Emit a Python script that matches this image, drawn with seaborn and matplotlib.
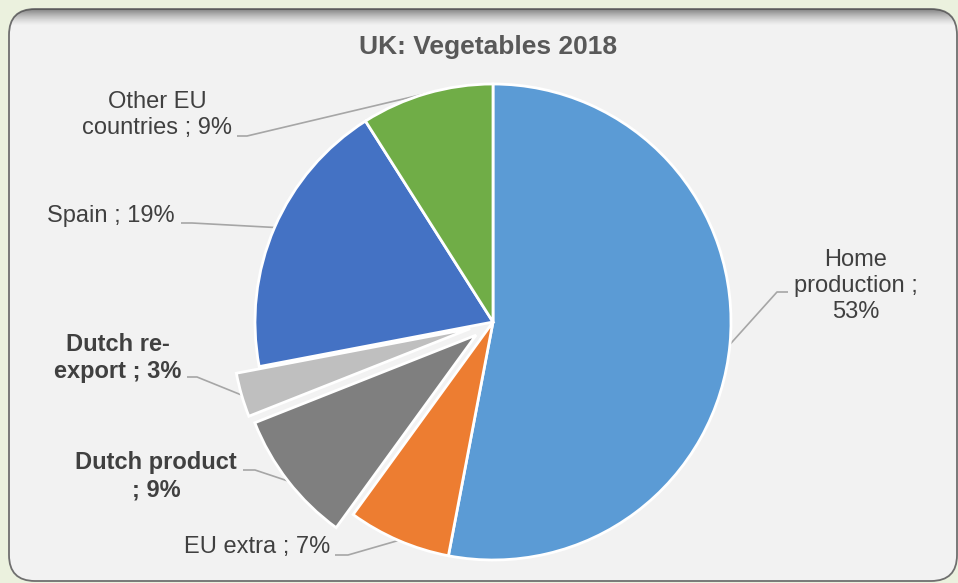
import numpy as np
import matplotlib
matplotlib.use("Agg")
import matplotlib.pyplot as plt
from matplotlib.patches import FancyBboxPatch
import seaborn as sns

# ---------------- data ----------------
categories = ["Home production", "EU extra", "Dutch product",
              "Dutch re-export", "Spain", "Other EU countries"]
shares = [53, 7, 9, 3, 19, 9]
label_texts = ["Home\nproduction ;\n53%", "EU extra ; 7%", "Dutch product\n; 9%",
               "Dutch re-\nexport ; 3%", "Spain ; 19%", "Other EU\ncountries ; 9%"]
bold_labels = [False, False, True, True, False, False]
title = "UK: Vegetables 2018"

# ---------------- style ----------------
sns.set_theme(style="white")
plt.rcParams['font.family'] = ['Liberation Sans', 'DejaVu Sans']

colors = ["#5B9BD5", "#ED7D31", "#7F7F7F", "#BFBFBF", "#4472C4", "#70AD47"]
explode = [0, 0, 0.09, 0.10, 0, 0]

W, H = 958, 583
fig = plt.figure(figsize=(W / 100, H / 100), dpi=100, facecolor="#EBF1DE")

# background axes in pixel coordinates
bg = fig.add_axes([0, 0, 1, 1], zorder=0)
bg.set_xlim(0, W)
bg.set_ylim(H, 0)
bg.axis("off")
box = FancyBboxPatch((9, 9), 948, 572, boxstyle="round,pad=0,rounding_size=26",
                     facecolor="#F2F2F2", edgecolor="#6F6F6F", linewidth=1.3)
bg.add_patch(box)
# top shadow inside the box
grad = np.zeros((40, 1, 4))
grad[..., :3] = 0.3
grad[:, 0, 3] = np.linspace(0.75, 0.0, 40) ** 1.4
im = bg.imshow(grad, extent=(9, 957, 26, 9), aspect="auto", origin="upper",
               interpolation="bilinear", zorder=2)
im.set_clip_path(box)
bg.set_xlim(0, W)
bg.set_ylim(H, 0)

# pie axes: centre at (493, 322) px, radius 238 px
cx, cy, R, half = 493, 322, 238, 300
ax = fig.add_axes([(cx - half) / W, (H - cy - half) / H, 2 * half / W, 2 * half / H],
                  zorder=1)
ax.patch.set_alpha(0)
wedges, _ = ax.pie(shares, startangle=90, counterclock=False, colors=colors,
                   explode=explode,
                   wedgeprops=dict(edgecolor="white", linewidth=2.0))
ax.set_aspect("auto")
lim = half / R
ax.set_xlim(-lim, lim)
ax.set_ylim(-lim, lim)
ax.axis("off")


def p2d(px, py):
    return (px - cx) / R, (cy - py) / R


# label layout in pixels: text centre, leader start, stub end
label_layout = [
    ((856, 286), (788, 292), (777, 292)),
    ((257, 547), (335, 555), (348, 555)),
    ((156, 476), (243, 470), (255, 470)),
    ((118, 358), (187, 377), (197, 377)),
    ((111, 216), (181, 223), (192, 223)),
    ((157, 115), (237, 136), (247, 136)),
]

for w, txt, bold, (tc, ls, le) in zip(wedges, label_texts, bold_labels, label_layout):
    mid = np.deg2rad((w.theta1 + w.theta2) / 2)
    ex = w.center[0] + w.r * np.cos(mid)
    ey = w.center[1] + w.r * np.sin(mid)
    x0, y0 = p2d(*ls)
    x1, y1 = p2d(*le)
    ax.plot([x0, x1, ex], [y0, y1, ey], color="#A6A6A6", lw=1.2,
            clip_on=False, solid_capstyle="butt", zorder=0.5)
    tx, ty = p2d(*tc)
    ax.text(tx, ty, txt, ha="center", va="center", multialignment="center",
            fontsize=17, color="#404040", linespacing=1.23,
            fontweight="bold" if bold else "normal")

fig.text(488 / W, 1 - 54 / H, title, ha="center", va="baseline",
         fontsize=19, fontweight="bold", color="#595959")

fig.savefig("out.png", dpi=100, facecolor=fig.get_facecolor())
